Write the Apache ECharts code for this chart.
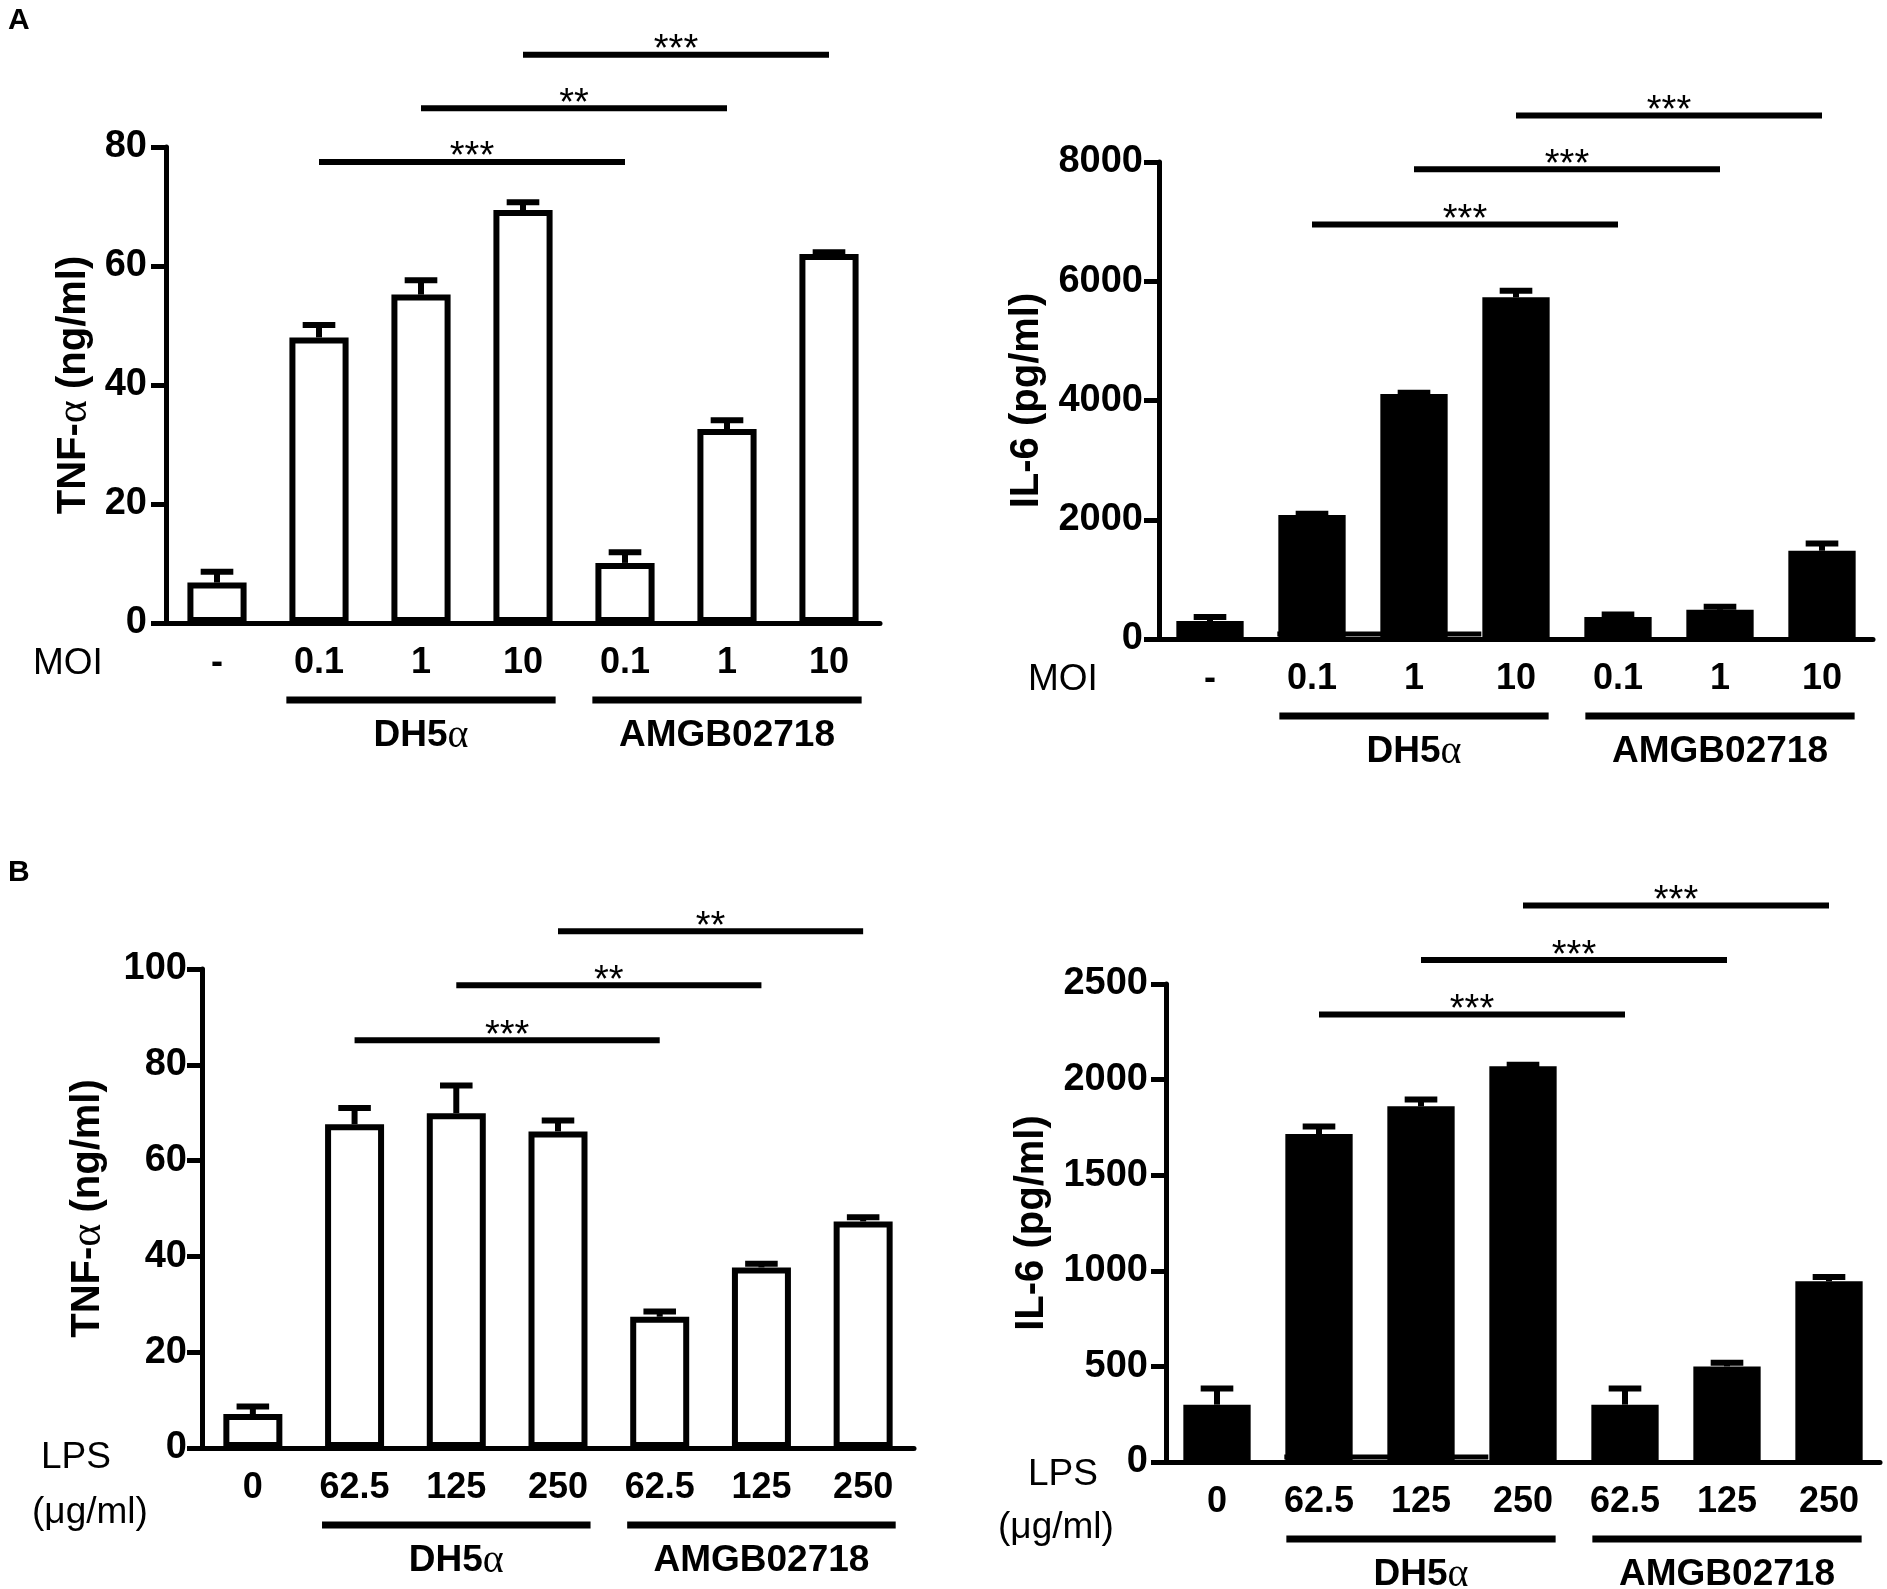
<!DOCTYPE html>
<html>
<head>
<meta charset="utf-8">
<script src="https://cdn.jsdelivr.net/npm/echarts@6/dist/echarts.min.js"></script>
<style>
  html, body { margin: 0; padding: 0; background: #fff; }
  #chart { width: 1887px; height: 1589px; }
</style>
</head>
<body>
<div id="chart"></div>
<script>
// categories
var moiLabels = ['-', '0.1', '1', '10', '0.1', '1', '10'];
var lpsLabels = ['0', '62.5', '125', '250', '62.5', '125', '250'];
var groupNames = ['DH5{a|α}', 'AMGB02718'];
var groupSpans = [[1, 3], [4, 6]];

// A: MOI infection
var tnfMoi = [6.8, 48.0, 55.2, 69.4, 10.1, 32.6, 62.0];
var tnfMoiErr = [2.3, 2.6, 2.9, 1.8, 2.3, 2.0, 0.8];
var il6Moi = [300, 2080, 4110, 5730, 370, 490, 1480];
var il6MoiErr = [120, 70, 70, 160, 90, 100, 170];

// B: LPS stimulation
var tnfLps = [7.1, 67.6, 69.9, 66.1, 27.4, 37.7, 47.3];
var tnfLpsErr = [2.2, 4.0, 6.4, 2.9, 1.7, 1.4, 1.5];
var il6Lps = [300, 1715, 1860, 2070, 300, 500, 945];
var il6LpsErr = [100, 56, 51, 23, 100, 35, 38];

// significance brackets: compared categories, heights, stars
var sigPairs = [[1, 4], [2, 5], [3, 6]];
var sigTnfMoi = [77.5, 86.5, 95.5];
var starsTnfMoi = ['***', '**', '***'];
var sigIl6Moi = [6950, 7880, 8780];
var starsIl6Moi = ['***', '***', '***'];
var sigTnfLps = [85.1, 96.6, 107.9];
var starsTnfLps = ['***', '**', '**'];
var sigIl6Lps = [2340, 2625, 2910];
var starsIl6Lps = ['***', '***', '***'];

var FONT = '"Liberation Sans", Arial, Helvetica, sans-serif';
var SERIF = '"Liberation Serif", "DejaVu Serif", serif';

var chart = echarts.init(document.getElementById('chart'));

function barSeries(idx, values, filled) {
  return {
    type: 'bar',
    xAxisIndex: idx,
    yAxisIndex: idx,
    data: values,
    barWidth: filled ? '66%' : '58%',
    itemStyle: filled
      ? { color: '#000' }
      : { color: '#fff', borderColor: '#000', borderWidth: 6 },
    silent: true,
    z: 2
  };
}

function errorSeries(idx, values, errs) {
  return {
    type: 'custom',
    xAxisIndex: idx,
    yAxisIndex: idx,
    z: 3,
    silent: true,
    data: values.map(function (v, i) { return [i, v, v + errs[i]]; }),
    encode: { x: 0, y: [1, 2] },
    renderItem: function (params, api) {
      var p0 = api.coord([api.value(0), api.value(1)]);
      var p1 = api.coord([api.value(0), api.value(2)]);
      var half = api.size([1, 0])[0] * 0.16;
      var st = { stroke: '#000', lineWidth: 6 };
      return {
        type: 'group',
        children: [
          { type: 'line', shape: { x1: p0[0], y1: p0[1], x2: p1[0], y2: p1[1] + 3 }, style: st },
          { type: 'line', shape: { x1: p1[0] - half, y1: p1[1] + 3, x2: p1[0] + half, y2: p1[1] + 3 }, style: st }
        ]
      };
    }
  };
}

function sigSeries(idx, heights, stars) {
  return {
    type: 'custom',
    xAxisIndex: idx,
    yAxisIndex: idx,
    z: 4,
    silent: true,
    clip: false,
    data: sigPairs.map(function (p, i) { return [p[0], p[1], heights[i]]; }),
    encode: { x: [0, 1], y: 2 },
    renderItem: function (params, api) {
      var a = api.coord([api.value(0), api.value(2)]);
      var b = api.coord([api.value(1), api.value(2)]);
      return {
        type: 'group',
        children: [
          { type: 'line', shape: { x1: a[0], y1: a[1], x2: b[0], y2: b[1] },
            style: { stroke: '#000', lineWidth: 6 } },
          { type: 'text', style: {
              text: stars[params.dataIndex], x: (a[0] + b[0]) / 2, y: a[1] - 4,
              align: 'center', verticalAlign: 'middle', fill: '#000',
              fontSize: 38, fontFamily: FONT } }
        ]
      };
    }
  };
}

function groupSeries(idx, strip) {
  return {
    type: 'custom',
    xAxisIndex: idx,
    yAxisIndex: idx,
    z: 4,
    silent: true,
    clip: false,
    data: groupSpans.map(function (s) { return [s[0], s[1]]; }),
    encode: { x: [0, 1] },
    renderItem: function (params, api) {
      var band = api.size([1, 0])[0];
      var a = api.coord([api.value(0), 0]);
      var b = api.coord([api.value(1), 0]);
      var hw = band * 0.32;
      var y = a[1] + 77;
      var kids = [
        { type: 'line', shape: { x1: a[0] - hw, y1: y, x2: b[0] + hw, y2: y },
          style: { stroke: '#000', lineWidth: 7 } },
        { type: 'text', style: {
            text: groupNames[params.dataIndex], x: (a[0] + b[0]) / 2, y: y + 36,
            align: 'center', verticalAlign: 'middle', fill: '#000',
            fontSize: 37, fontWeight: 'bold', fontFamily: FONT,
            rich: { a: { fontSize: 40, fontWeight: 'normal', fontFamily: SERIF, fill: '#000' } } } }
      ];
      // thin base strip that sits on the axis under the DH5α bars
      if (strip && params.dataIndex === 0) {
        kids.push({ type: 'rect', shape: { x: a[0] - band * 0.34, y: a[1] - 7.5, width: b[0] - a[0], height: 5 },
          style: { fill: '#000' } });
      }
      return { type: 'group', children: kids };
    }
  };
}

function xAxis(idx, labels) {
  return {
    type: 'category',
    gridIndex: idx,
    data: labels,
    axisLine: { lineStyle: { color: '#000', width: 5 } },
    axisTick: { alignWithLabel: true, length: 14, lineStyle: { color: '#000', width: 5 } },
    axisLabel: { interval: 0, color: '#000', fontSize: 36, fontWeight: 'bold', fontFamily: FONT, margin: 22 }
  };
}

function yAxis(idx, max, interval, name, gap, labelMargin) {
  return {
    type: 'value',
    gridIndex: idx,
    min: 0,
    max: max,
    interval: interval,
    name: name,
    nameLocation: 'middle',
    nameRotate: 90,
    nameGap: gap,
    nameTextStyle: {
      color: '#000', fontSize: 40, fontWeight: 'bold', fontFamily: FONT,
      rich: { a: { fontSize: 44, fontWeight: 'normal', fontFamily: SERIF, color: '#000' } }
    },
    splitLine: { show: false },
    axisLine: { show: true, lineStyle: { color: '#000', width: 5 } },
    axisTick: { show: true, length: 15, lineStyle: { color: '#000', width: 5 } },
    axisLabel: {
      color: '#000', fontSize: 38, fontWeight: 'bold', fontFamily: FONT, margin: labelMargin,
      formatter: function (v) { return String(v); }
    }
  };
}

function plainText(str, x, y, size, bold) {
  return {
    type: 'text', x: x, y: y, silent: true,
    style: { text: str, fill: '#000', fontSize: size, fontWeight: bold ? 'bold' : 'normal',
             fontFamily: FONT, align: 'left', verticalAlign: 'middle' }
  };
}

var option = {
  backgroundColor: '#fff',
  animation: false,
  grid: [
    { left: 166, top: 147, width: 714, height: 476 },
    { left: 1159, top: 162, width: 714, height: 477 },
    { left: 202, top: 969, width: 712, height: 479 },
    { left: 1166, top: 984, width: 714, height: 478 }
  ],
  xAxis: [
    xAxis(0, moiLabels),
    xAxis(1, moiLabels),
    xAxis(2, lpsLabels),
    xAxis(3, lpsLabels)
  ],
  yAxis: [
    yAxis(0, 80, 20, 'TNF-{a|α} (ng/ml)', 70, 19),
    yAxis(1, 8000, 2000, 'IL-6 (pg/ml)', 112, 16),
    yAxis(2, 100, 20, 'TNF-{a|α} (ng/ml)', 92, 15),
    yAxis(3, 2500, 500, 'IL-6 (pg/ml)', 114, 18)
  ],
  series: [
    barSeries(0, tnfMoi, false),
    errorSeries(0, tnfMoi, tnfMoiErr),
    sigSeries(0, sigTnfMoi, starsTnfMoi),
    groupSeries(0, false),

    barSeries(1, il6Moi, true),
    errorSeries(1, il6Moi, il6MoiErr),
    sigSeries(1, sigIl6Moi, starsIl6Moi),
    groupSeries(1, true),

    barSeries(2, tnfLps, false),
    errorSeries(2, tnfLps, tnfLpsErr),
    sigSeries(2, sigTnfLps, starsTnfLps),
    groupSeries(2, false),

    barSeries(3, il6Lps, true),
    errorSeries(3, il6Lps, il6LpsErr),
    sigSeries(3, sigIl6Lps, starsIl6Lps),
    groupSeries(3, true)
  ],
  graphic: [
    plainText('A', 8, 21, 30, true),
    plainText('B', 8, 873, 30, true),
    plainText('MOI', 33, 664, 37, false),
    plainText('MOI', 1028, 680, 37, false),
    plainText('LPS', 41, 1458, 37, false),
    plainText('(μg/ml)', 32, 1513, 37, false),
    plainText('LPS', 1028, 1475, 37, false),
    plainText('(μg/ml)', 998, 1528, 37, false)
  ]
};

chart.setOption(option);

window.addEventListener('resize', function () {
  chart.resize();
});
</script>
</body>
</html>
